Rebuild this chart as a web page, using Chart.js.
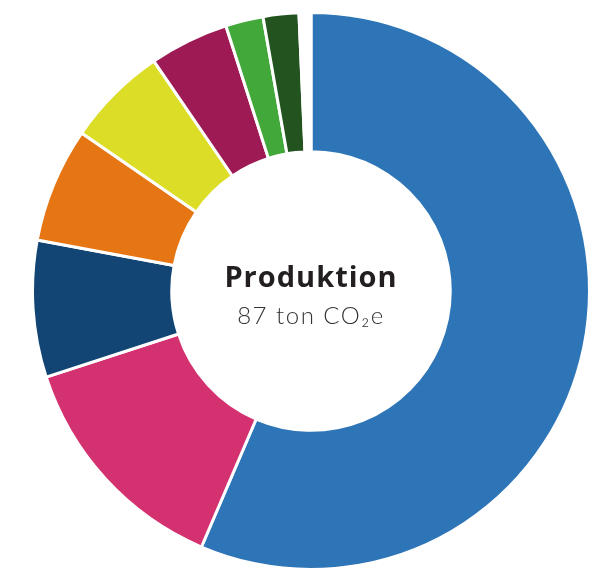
<!DOCTYPE html>
<html>
<head>
<meta charset="utf-8">
<script src="https://cdn.jsdelivr.net/npm/chart.js@4.4.1/dist/chart.umd.min.js"></script>
<style>
  html, body { margin: 0; padding: 0; background: #fff; }
  body { width: 604px; height: 572px; position: relative; overflow: hidden; }
  .wrap { position: absolute; left: 31px; top: 11px; width: 560px; height: 560px; }
</style>
</head>
<body>
<div class="wrap"><canvas id="donut"></canvas></div>
<script>
// ── DATA ──
const categories = ['Kategori 1', 'Kategori 2', 'Kategori 3', 'Kategori 4', 'Kategori 5', 'Kategori 6', 'Kategori 7', 'Kategori 8', ''];
const values = [49.1, 11.8, 6.9, 5.8, 5.1, 4.0, 1.9, 1.8, 0.6];
const colors = ['#2e75b7', '#d43171', '#124574', '#e67613', '#dcdd26', '#9e1a55', '#43a83a', '#23531f', 'rgba(255,255,255,0)'];
const title = 'Produktion';
const subtitle = '87 ton CO₂e';

// center label
const centerText = {
    id: 'centerText',
    afterDraw(chart) {
        const arc = chart.getDatasetMeta(0).data[0];
        if (!arc) return;
        const ctx = chart.ctx;
        ctx.save();
        ctx.textAlign = 'center';
        ctx.textBaseline = 'alphabetic';
        ctx.fillStyle = '#231f20';
        ctx.font = "bold 29px 'Open Sans', sans-serif";
        ctx.letterSpacing = '1px';
        ctx.fillText(title, arc.x, arc.y - 4);
        ctx.fillStyle = '#333333';
        ctx.font = "300 24px 'Lato', sans-serif";
        ctx.letterSpacing = '1.5px';
        ctx.fillText(subtitle, arc.x, arc.y + 33);
        ctx.restore();
    }
};

new Chart(document.getElementById('donut'), {
    type: 'doughnut',
    data: {
        labels: categories,
        datasets: [{
            data: values,
            backgroundColor: colors,
            borderColor: '#ffffff',
            borderWidth: 3,
            hoverOffset: 0,
        }]
    },
    options: {
        responsive: true, maintainAspectRatio: false,
        animation: false,
        cutout: '50%',
        layout: { padding: 0 },
        plugins: { legend: { display: false }, tooltip: { enabled: false } }
    },
    plugins: [centerText]
});
</script>
</body>
</html>
